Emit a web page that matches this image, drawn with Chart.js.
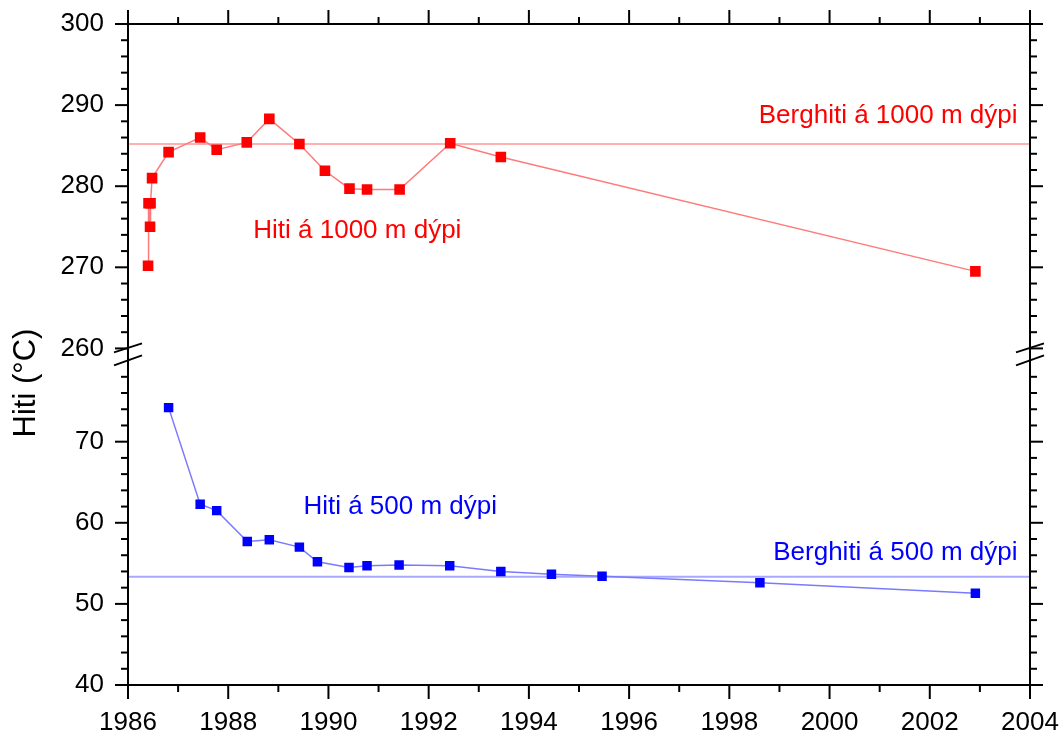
<!DOCTYPE html>
<html>
<head>
<meta charset="utf-8">
<script src="https://cdn.jsdelivr.net/npm/chart.js@4/dist/chart.umd.min.js"></script>
<style>
html,body{margin:0;padding:0;background:#fff;}
#wrap{width:1064px;height:736px;position:relative;}
</style>
</head>
<body>
<div id="wrap"><canvas id="c"></canvas></div>
<script>
// ---- data ----
const years1000 = [1986.40, 1986.41, 1986.44, 1986.45, 1986.48, 1986.81, 1987.44, 1987.77, 1988.37, 1988.82, 1989.42, 1989.93, 1990.42, 1990.77, 1991.42, 1992.43, 1993.44, 2002.91];
const temp1000  = [270.2, 277.9, 275.0, 277.9, 281.0, 284.2, 286.0, 284.5, 285.4, 288.3, 285.2, 281.9, 279.7, 279.6, 279.6, 285.3, 283.6, 269.5];
const years500  = [1986.81, 1987.44, 1987.77, 1988.38, 1988.82, 1989.42, 1989.78, 1990.41, 1990.77, 1991.41, 1992.42, 1993.44, 1994.45, 1995.46, 1998.61, 2002.91];
const temp500   = [74.2, 62.3, 61.5, 57.7, 57.9, 57.0, 55.2, 54.5, 54.7, 54.8, 54.7, 54.0, 53.65, 53.4, 52.6, 51.3];
const baseline1000 = 285.2;
const baseline500  = 53.35;
const xRange     = [1986, 2004];
const yLowRange  = [40, 81.5];
const yHighRange = [260, 300];
const xTicks     = [1986, 1988, 1990, 1992, 1994, 1996, 1998, 2000, 2002, 2004];
const yLowTicks  = [40, 50, 60, 70];
const yHighTicks = [260, 270, 280, 290, 300];
const labelTexts = ['Hiti á 1000 m dýpi', 'Berghiti á 1000 m dýpi', 'Hiti á 500 m dýpi', 'Berghiti á 500 m dýpi'];
const axisTitle  = 'Hiti (°C)';

const FONT = '"Liberation Sans", Arial, sans-serif';
const pts = (xs, ys) => xs.map((x, i) => ({x: x, y: ys[i]}));
const noPad = s => { s.paddingTop = 0; s.paddingBottom = 0; s.paddingLeft = 0; s.paddingRight = 0; };

const decor = {
  id: 'decor',
  afterDraw(chart) {
    const ctx = chart.ctx, a = chart.chartArea;
    const xs = chart.scales.x, yl = chart.scales.yLow, yh = chart.scales.yHigh;
    ctx.save();
    ctx.strokeStyle = '#000';
    ctx.lineWidth = 2;
    ctx.lineCap = 'butt';
    const seg = (x1, y1, x2, y2) => { ctx.beginPath(); ctx.moveTo(x1, y1); ctx.lineTo(x2, y2); ctx.stroke(); };
    ctx.strokeRect(a.left, a.top, a.right - a.left, a.bottom - a.top);
    // x ticks (bottom + top)
    for (let v = xRange[0]; v <= xRange[1]; v++) {
      const L = xTicks.includes(v) ? 14 : 7;
      const px = xs.getPixelForValue(v);
      seg(px, a.bottom, px, a.bottom + L);
      seg(px, a.top, px, a.top - L);
    }
    // y ticks (left + right)
    const yTicks = (scale, majors, from, to) => {
      for (let v = from; v <= to; v += 2) {
        const L = majors.includes(v) ? 13 : 7;
        const py = scale.getPixelForValue(v);
        seg(a.left, py, a.left - L, py);
        seg(a.right, py, a.right + L, py);
      }
    };
    yTicks(yl, yLowTicks, 40, 78);
    yTicks(yh, yHighTicks, 260, 300);
    // axis break marks
    const b = yh.bottom;
    [a.left, a.right].forEach(ax => {
      seg(ax - 14, b + 4, ax + 14, b - 5);
      seg(ax - 14, b + 17, ax + 14, b + 7);
    });
    // annotations
    ctx.font = '26px ' + FONT;
    ctx.textBaseline = 'alphabetic';
    ctx.fillStyle = '#ff0000';
    ctx.textAlign = 'left';
    ctx.fillText(labelTexts[0], xs.getPixelForValue(1988.5), yh.getPixelForValue(273.6));
    ctx.textAlign = 'right';
    ctx.fillText(labelTexts[1], xs.getPixelForValue(2003.75), yh.getPixelForValue(287.8));
    ctx.fillStyle = '#0000ff';
    ctx.textAlign = 'left';
    ctx.fillText(labelTexts[2], xs.getPixelForValue(1989.5), yl.getPixelForValue(61.1));
    ctx.textAlign = 'right';
    ctx.fillText(labelTexts[3], xs.getPixelForValue(2003.75), yl.getPixelForValue(55.4));
    // y axis title
    ctx.fillStyle = '#000';
    ctx.font = '31px ' + FONT;
    ctx.translate(35, 383);
    ctx.rotate(-Math.PI / 2);
    ctx.textAlign = 'center';
    ctx.fillText(axisTitle, 0, 0);
    ctx.restore();
  }
};

const tickFont = {family: FONT, size: 26};

new Chart(document.getElementById('c'), {
  type: 'line',
  data: {
    datasets: [
      {
        data: pts(years1000, temp1000), yAxisID: 'yHigh', order: 1,
        borderColor: '#ff7a7a', borderWidth: 1.5,
        pointStyle: 'rect', pointRadius: 7.5, pointBorderWidth: 0,
        pointBackgroundColor: '#ff0000', pointBorderColor: '#ff0000'
      },
      {
        data: pts(years500, temp500), yAxisID: 'yLow', order: 1,
        borderColor: '#7a7aff', borderWidth: 1.5,
        pointStyle: 'rect', pointRadius: 6.7, pointBorderWidth: 0,
        pointBackgroundColor: '#0000ff', pointBorderColor: '#0000ff'
      },
      {
        data: pts(xRange, [baseline1000, baseline1000]), yAxisID: 'yHigh', order: 2,
        borderColor: '#ffb0b0', borderWidth: 2, pointRadius: 0
      },
      {
        data: pts(xRange, [baseline500, baseline500]), yAxisID: 'yLow', order: 2,
        borderColor: '#a8a8ff', borderWidth: 2, pointRadius: 0
      }
    ]
  },
  options: {
    responsive: true,
    maintainAspectRatio: false,
    animation: false,
    devicePixelRatio: 1,
    layout: {padding: {left: 0, right: 34, top: 24, bottom: 0}},
    plugins: {legend: {display: false}, tooltip: {enabled: false}},
    elements: {line: {tension: 0}},
    scales: {
      x: {
        type: 'linear', min: xRange[0], max: xRange[1],
        afterBuildTicks: s => { s.ticks = xTicks.map(v => ({value: v})); },
        afterFit: s => { s.height = 51; noPad(s); },
        grid: {display: false}, border: {display: false},
        ticks: {font: tickFont, color: '#000', padding: 14, maxRotation: 0, autoSkip: false, callback: v => String(v)}
      },
      yLow: {
        type: 'linear', position: 'left', stack: 'y',
        stackWeight: yLowRange[1] - yLowRange[0],
        min: yLowRange[0], max: yLowRange[1],
        afterBuildTicks: s => { s.ticks = yLowTicks.map(v => ({value: v})); },
        afterFit: s => { s.width = 128; noPad(s); },
        grid: {display: false}, border: {display: false},
        ticks: {font: tickFont, color: '#000', padding: 16, autoSkip: false, callback: v => String(v)}
      },
      yHigh: {
        type: 'linear', position: 'left', stack: 'y',
        stackWeight: yHighRange[1] - yHighRange[0],
        min: yHighRange[0], max: yHighRange[1],
        afterBuildTicks: s => { s.ticks = yHighTicks.map(v => ({value: v})); },
        afterFit: s => { s.width = 128; noPad(s); },
        grid: {display: false}, border: {display: false},
        ticks: {font: tickFont, color: '#000', padding: 16, autoSkip: false, callback: v => String(v)}
      }
    }
  },
  plugins: [decor]
});
</script>
</body>
</html>
